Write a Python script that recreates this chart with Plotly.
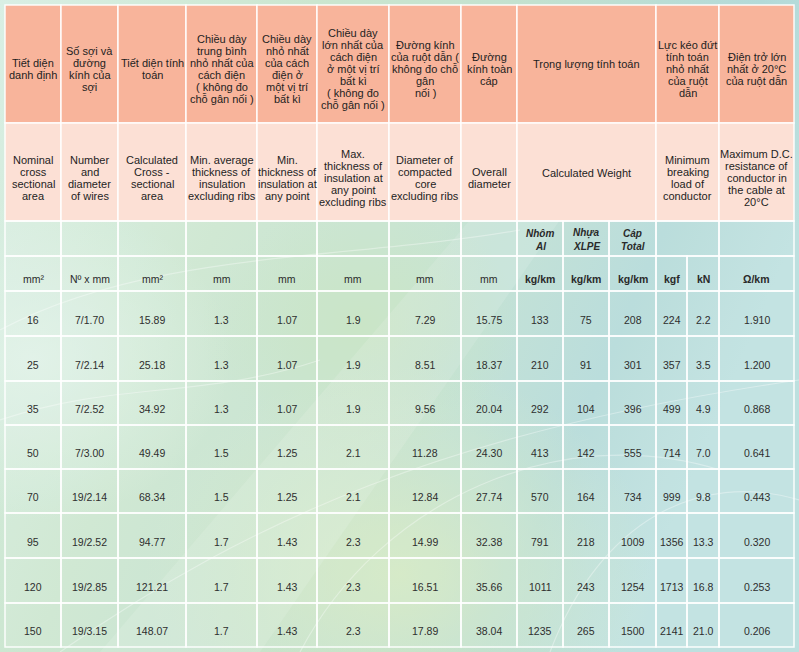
import base64
import plotly.graph_objects as go

# ---- table data ----
nominal_area = ["16", "25", "35", "50", "70", "95", "120", "150"]
wires = ["7/1.70", "7/2.14", "7/2.52", "7/3.00", "19/2.14", "19/2.52", "19/2.85", "19/3.15"]
calc_area = [15.89, 25.18, 34.92, 49.49, 68.34, 94.77, 121.21, 148.07]
avg_insul = [1.3, 1.3, 1.3, 1.5, 1.5, 1.7, 1.7, 1.7]
min_insul = [1.07, 1.07, 1.07, 1.25, 1.25, 1.43, 1.43, 1.43]
max_insul = [1.9, 1.9, 1.9, 2.1, 2.1, 2.3, 2.3, 2.3]
core_dia = [7.29, 8.51, 9.56, 11.28, 12.84, 14.99, 16.51, 17.89]
overall_dia = [15.75, 18.37, 20.04, 24.30, 27.74, 32.38, 35.66, 38.04]
weight_al = [133, 210, 292, 413, 570, 791, 1011, 1235]
weight_xlpe = [75, 91, 104, 142, 164, 218, 243, 265]
weight_total = [208, 301, 396, 555, 734, 1009, 1254, 1500]
break_kgf = [224, 357, 499, 714, 999, 1356, 1713, 2141]
break_kn = [2.2, 3.5, 4.9, 7.0, 9.8, 13.3, 16.8, 21.0]
resistance = [1.910, 1.200, 0.868, 0.641, 0.443, 0.320, 0.253, 0.206]

# header texts
head_vi = [
    "Tiết diện\ndanh định",
    "Số sợi và\nđường\nkính của\nsợi",
    "Tiết diện tính\ntoán",
    "Chiều dày\ntrung bình\nnhỏ nhất của\ncách điện\n( không đo\nchỗ gân nối )",
    "Chiều dày\nnhỏ nhất\ncủa cách\nđiện ở\nmột vị trí\nbất kì",
    "Chiều dày\nlớn nhất của\ncách điện\nở một vị trí\nbất kì\n( không đo\nchỗ gân nối )",
    "Đường kính\ncủa ruột dẫn (\nkhông đo chỗ\ngân\nnối )",
    "Đường\nkính toàn\ncáp",
    "Trọng lượng tính toán",
    "Lực kéo đứt\ntính toán\nnhỏ nhất\ncủa ruột\ndẫn",
    "Điện trở lớn\nnhất ở 20°C\ncủa ruột dẫn",
]
head_en = [
    "Nominal\ncross\nsectional\narea",
    "Number\nand\ndiameter\nof wires",
    "Calculated\nCross -\nsectional\narea",
    "Min. average\nthickness of\ninsulation\nexcluding ribs",
    "Min.\nthickness of\ninsulation at\nany point",
    "Max.\nthickness of\ninsulation at\nany point\nexcluding ribs",
    "Diameter of\ncompacted\ncore\nexcluding ribs",
    "Overall\ndiameter",
    "Calculated Weight",
    "Minimum\nbreaking\nload of\nconductor",
    "Maximum D.C.\nresistance of\nconductor in\nthe cable at\n20°C",
]
weight_parts = ["Nhôm\nAl", "Nhựa\nXLPE", "Cáp\nTotal"]
units = ["mm²", "Nº x mm", "mm²", "mm", "mm", "mm", "mm", "mm",
         "kg/km", "kg/km", "kg/km", "kgf", "kN", "Ω/km"]

columns = [
    (nominal_area, "{}"), (wires, "{}"), (calc_area, "{:.2f}"), (avg_insul, "{:.1f}"),
    (min_insul, "{:.2f}"), (max_insul, "{:.1f}"), (core_dia, "{:.2f}"), (overall_dia, "{:.2f}"),
    (weight_al, "{}"), (weight_xlpe, "{}"), (weight_total, "{}"), (break_kgf, "{}"),
    (break_kn, "{:.1f}"), (resistance, "{:.3f}"),
]

# ---- layout geometry (pixels) ----
W, H = 799, 652
col_x = [5, 61, 118, 186, 257, 317, 389, 461, 517, 563, 609, 656, 687, 719, 794]
row_y = [5, 123, 221, 256, 291, 336, 381, 425, 469, 513, 558, 603, 647]
# header spans: (first col, last col) for the 11 header groups
spans = [(0, 0), (1, 1), (2, 2), (3, 3), (4, 4), (5, 5), (6, 6), (7, 7), (8, 10), (11, 12), (13, 13)]

FONT = "Liberation Sans"
HEAD1 = "#f8b49b"
HEAD2 = "#fce0d5"
GRID = "rgba(255,255,255,0.92)"

bg_svg = """<svg xmlns='http://www.w3.org/2000/svg' width='799' height='652' viewBox='0 0 799 652'>
<defs>
<linearGradient id='b' x1='0' y1='0' x2='1' y2='0.35'>
<stop offset='0' stop-color='#d9efe4'/>
<stop offset='0.35' stop-color='#cbe6cf'/>
<stop offset='0.6' stop-color='#c2e1cf'/>
<stop offset='0.85' stop-color='#b3dad8'/>
<stop offset='1' stop-color='#bde0df'/>
</linearGradient>
<radialGradient id='g1' cx='0.5' cy='0.88' r='0.32'>
<stop offset='0' stop-color='#d6eabf' stop-opacity='0.85'/>
<stop offset='1' stop-color='#d6eabf' stop-opacity='0'/>
</radialGradient>
<radialGradient id='g2' cx='0.04' cy='0.55' r='0.25'>
<stop offset='0' stop-color='#e2f3ea' stop-opacity='0.8'/>
<stop offset='1' stop-color='#e2f3ea' stop-opacity='0'/>
</radialGradient>
<radialGradient id='g3' cx='0.45' cy='0.5' r='0.2'>
<stop offset='0' stop-color='#c5e3bd' stop-opacity='0.8'/>
<stop offset='1' stop-color='#c5e3bd' stop-opacity='0'/>
</radialGradient>
</defs>
<rect width='799' height='652' fill='url(#b)'/>
<rect width='799' height='652' fill='url(#g3)'/>
<rect width='799' height='652' fill='url(#g1)'/>
<rect width='799' height='652' fill='url(#g2)'/>
<path d='M100 652 L260 652 L560 220 L470 220 Z' fill='#ffffff' fill-opacity='0.12'/>
<g fill='none' stroke='#ffffff' stroke-opacity='0.35' stroke-width='1.2'>
<path d='M0 330 C150 250 350 260 520 230'/>
<path d='M60 652 C250 520 450 430 799 380'/>
<path d='M300 652 C380 500 560 420 720 470'/>
<path d='M550 652 C600 520 700 470 799 500'/>
<path d='M0 420 C120 380 200 400 320 360'/>
</g>
</svg>"""
bg_uri = "data:image/svg+xml;base64," + base64.b64encode(bg_svg.encode("utf-8")).decode()

fig = go.Figure()
shapes = []
annotations = []


def cell(x0, x1, y0, y1, fill):
    shapes.append(dict(type="rect", xref="x", yref="y", x0=x0, x1=x1, y0=y0, y1=y1,
                       fillcolor=fill, line=dict(color=GRID, width=1.5), layer="above"))


def text_lines(txt, xc, yc, size=11, lh=12, color="#1e1e1e"):
    lines = txt.split("\n")
    top = yc - (len(lines) - 1) * lh / 2
    for i, ln in enumerate(lines):
        annotations.append(dict(x=xc, y=top + i * lh, xref="x", yref="y", text=ln,
                                showarrow=False, xanchor="center", yanchor="middle",
                                font=dict(family=FONT, size=size, color=color)))


# header rows (Vietnamese / English)
for k, (c0, c1) in enumerate(spans):
    x0, x1 = col_x[c0], col_x[c1 + 1]
    xc = (x0 + x1) / 2
    cell(x0, x1, row_y[0], row_y[1], HEAD1)
    cell(x0, x1, row_y[1], row_y[2], HEAD2)
    shift1 = 0 if k == 8 else 5
    shift2 = 1 if k == 8 else 6
    text_lines(head_vi[k], xc, (row_y[0] + row_y[1]) / 2 + shift1)
    text_lines(head_en[k], xc, (row_y[1] + row_y[2]) / 2 + shift2)

# sub-header row
for c in range(14):
    if c == 12:
        continue
    x1 = col_x[c + 2] if c == 11 else col_x[c + 1]
    cell(col_x[c], x1, row_y[2], row_y[3], "rgba(255,255,255,0.10)")
for j, part in enumerate(weight_parts):
    c = 8 + j
    text_lines("<b><i>" + part.replace("\n", "</i></b>\n<b><i>") + "</i></b>",
               (col_x[c] + col_x[c + 1]) / 2, (row_y[2] + row_y[3]) / 2 + 1,
               size=10, lh=13, color="#2a2a2a")

# unit row
for c, u in enumerate(units):
    cell(col_x[c], col_x[c + 1], row_y[3], row_y[4], "rgba(255,255,255,0.10)")
    label = "<b>" + u + "</b>" if c >= 8 else u
    text_lines(label, (col_x[c] + col_x[c + 1]) / 2, (row_y[3] + row_y[4]) / 2 + 5,
               size=10.5, color="#2a2a2a")

# data rows
for r in range(len(nominal_area)):
    y0, y1 = row_y[4 + r], row_y[5 + r]
    for c, (vals, fmt) in enumerate(columns):
        cell(col_x[c], col_x[c + 1], y0, y1, "rgba(255,255,255,0.10)")
        text_lines(fmt.format(vals[r]), (col_x[c] + col_x[c + 1]) / 2, (y0 + y1) / 2 + 6,
                   size=10.5, color="#2e2e2e")

fig.update_layout(
    width=W, height=H,
    margin=dict(l=0, r=0, t=0, b=0),
    paper_bgcolor="#cfe8d8",
    plot_bgcolor="rgba(0,0,0,0)",
    xaxis=dict(range=[0, W], visible=False, fixedrange=True),
    yaxis=dict(range=[H, 0], visible=False, fixedrange=True),
    shapes=shapes,
    annotations=annotations,
    images=[dict(source=bg_uri, xref="paper", yref="paper", x=0, y=1, sizex=1, sizey=1,
                 sizing="stretch", layer="below", xanchor="left", yanchor="top")],
    showlegend=False,
)

fig.write_html("out.html", config={"displayModeBar": False},
               post_script="document.body.style.margin='0';document.body.style.overflow='hidden';")
